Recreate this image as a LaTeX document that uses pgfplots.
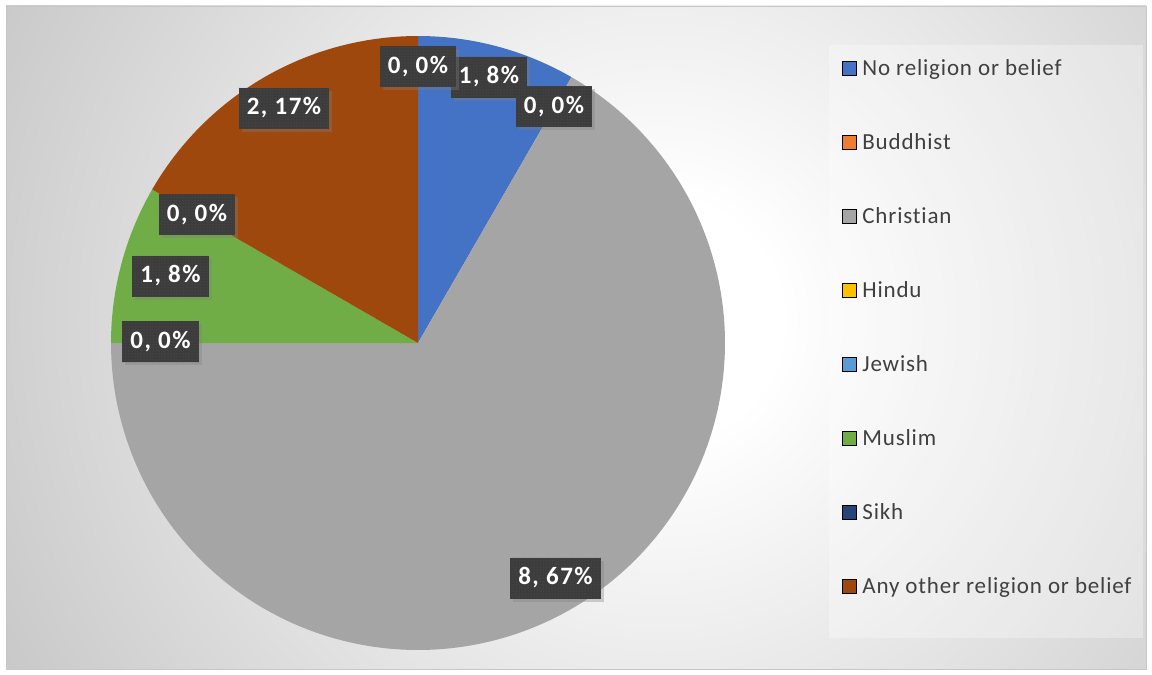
\documentclass[border=0pt]{standalone}
\usepackage{pgfplots}
\pgfplotsset{compat=1.18}
\usepackage{fontspec}
\setmainfont{Carlito}
\newfontfamily\legfont[LetterSpace=3.6,Ligatures=NoCommon]{Carlito}
\newfontfamily\lblfont[LetterSpace=6,Ligatures=NoCommon]{Carlito}
\usetikzlibrary{shadows,patterns}
\definecolor{cNone}{HTML}{4472C4}
\definecolor{cBud}{HTML}{ED7D31}
\definecolor{cChr}{HTML}{A5A5A5}
\definecolor{cHin}{HTML}{FFC000}
\definecolor{cJew}{HTML}{5B9BD5}
\definecolor{cMus}{HTML}{70AD47}
\definecolor{cSik}{HTML}{264478}
\definecolor{cOth}{HTML}{9E480E}
\definecolor{lgtext}{HTML}{404040}
\definecolor{lbbg}{HTML}{3C3C3C}
\definecolor{lbdot}{HTML}{575757}
\pgfdeclareradialshading{bgshade}{\pgfpointorigin}{color(0bp)=(white); color(3bp)=(white); color(19bp)=(black!22); color(25bp)=(black!24); color(50bp)=(black!24)}
% values (count per category), total = 12 -> 30 degrees per unit
\def\unitang{30}
\begin{document}
\begin{tikzpicture}[x=1pt,y=1pt,
  lbl/.style={fill=lbbg, text=white, font=\lblfont\bfseries\fontsize{25}{29}\selectfont,
    inner xsep=8pt, inner ysep=0pt, minimum height=41pt,
    drop shadow={shadow xshift=3pt, shadow yshift=-3pt, opacity=0.35},
    postaction={pattern=dots, pattern color=lbdot}}]
\fill[white] (0,0) rectangle (1152,675);
\begin{scope}
\clip (6,6) rectangle (1146,669);
\shade[shading=bgshade] (660,355) circle (1000);
\end{scope}
\draw[black!22, line width=0.8pt] (6,6) rectangle (1146,669);
\begin{axis}[at={(0,0)}, anchor=south west, scale only axis,
  width=1152pt, height=675pt, xmin=0, xmax=1152, ymin=0, ymax=675,
  y dir=reverse, hide axis, clip=false,
  legend image code/.code={\fill[#1] (0pt,-5.5pt) rectangle (14pt,8.5pt);},
  legend cell align=left,
  legend style={at={(axis cs:842,59.5)}, anchor=north west, draw=none, fill=none,
    inner sep=0pt, outer sep=0pt, text=lgtext, font=\legfont\fontsize{23}{27}\selectfont,
    row sep=53pt, column sep=6pt,
    nodes={inner sep=0pt, text height=16pt, text depth=5pt}},
]
% legend panel
\fill[white, opacity=0.3] (axis cs:829,45) rectangle (axis cs:1143,638);
% slices: value -> angular width (clockwise from 90 deg)
% No religion or belief = 1
\addplot[forget plot, fill=cNone, draw=none, domain={90-1*\unitang}:90, samples=60]
  ({418+307*cos(x)},{343-307*sin(x)}) -- (axis cs:418,343) -- cycle;
% Buddhist = 0
% Christian = 8
\addplot[forget plot, fill=cChr, draw=none, domain={60-8*\unitang}:60, samples=200]
  ({418+307*cos(x)},{343-307*sin(x)}) -- (axis cs:418,343) -- cycle;
% Hindu = 0, Jewish = 0
% Muslim = 1
\addplot[forget plot, fill=cMus, draw=none, domain={-180-1*\unitang}:-180, samples=60]
  ({418+307*cos(x)},{343-307*sin(x)}) -- (axis cs:418,343) -- cycle;
% Sikh = 0
% Any other religion or belief = 2
\addplot[forget plot, fill=cOth, draw=none, domain={-210-2*\unitang}:-210, samples=80]
  ({418+307*cos(x)},{343-307*sin(x)}) -- (axis cs:418,343) -- cycle;

\addlegendimage{fill=cNone}\addlegendentry{No religion or belief}
\addlegendimage{fill=cBud}\addlegendentry{Buddhist}
\addlegendimage{fill=cChr}\addlegendentry{Christian}
\addlegendimage{fill=cHin}\addlegendentry{Hindu}
\addlegendimage{fill=cJew}\addlegendentry{Jewish}
\addlegendimage{fill=cMus}\addlegendentry{Muslim}
\addlegendimage{fill=cSik}\addlegendentry{Sikh}
\addlegendimage{fill=cOth}\addlegendentry{Any other religion or belief}

% data labels
\node[lbl] at (axis cs:489,77) {1, 8\%};
\node[lbl] at (axis cs:554,106.5) {0, 0\%};
\node[lbl] at (axis cs:418,66.5) {0, 0\%};
\node[lbl] at (axis cs:555.5,578) {8, 67\%};
\node[lbl] at (axis cs:160.5,341.5) {0, 0\%};
\node[lbl] at (axis cs:170.5,276) {1, 8\%};
\node[lbl] at (axis cs:197,214.5) {0, 0\%};
\node[lbl] at (axis cs:284,108) {2, 17\%};
\end{axis}
\end{tikzpicture}
\end{document}
